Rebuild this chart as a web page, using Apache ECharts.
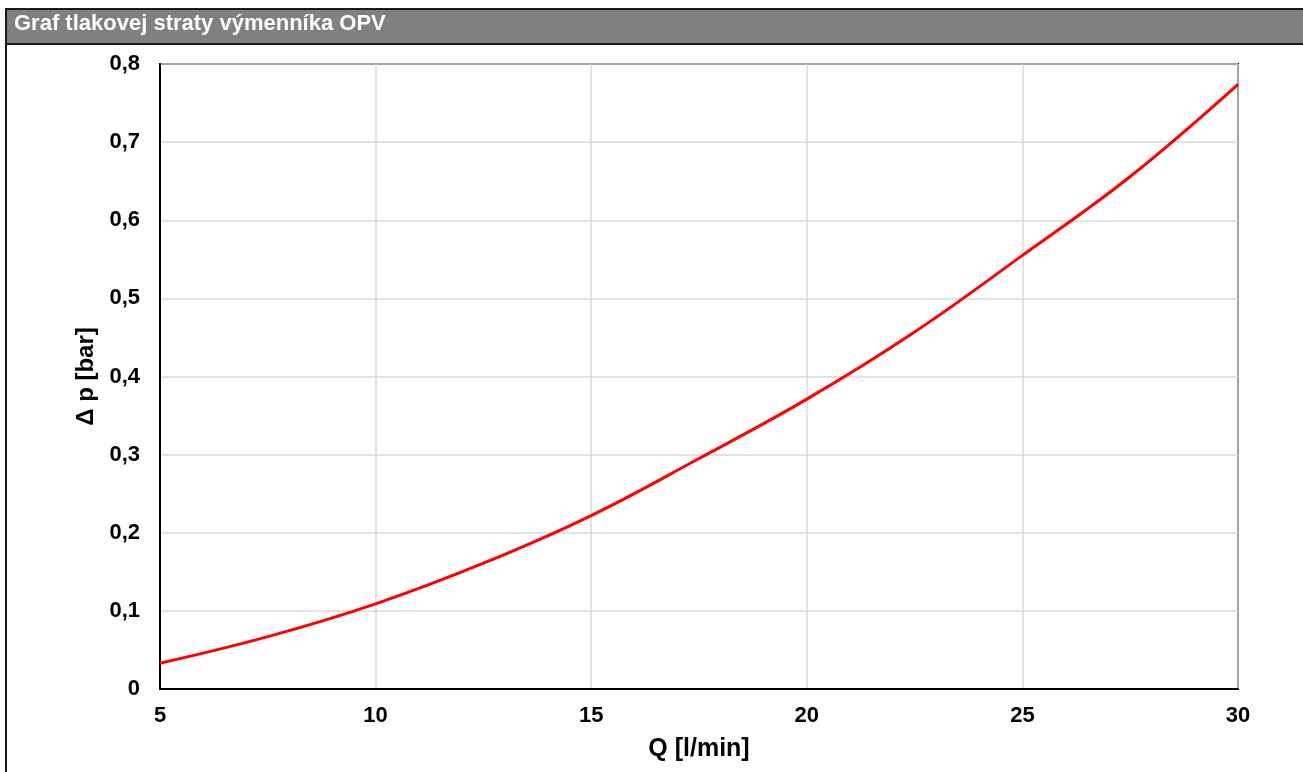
<!DOCTYPE html>
<html>
<head>
<meta charset="utf-8">
<script src="https://cdn.jsdelivr.net/npm/echarts@6/dist/echarts.min.js"></script>
<style>
html,body{margin:0;padding:0;background:#fff;}
#chart{width:1303px;height:772px;}
</style>
</head>
<body>
<div id="chart"></div>
<script>
const titleText = 'Graf tlakovej straty výmenníka OPV';
const flowQ = [5, 7.5, 10, 12.5, 15, 17.5, 20, 22.5, 25, 27.5, 30];
const pressureDrop = [0.033, 0.067, 0.109, 0.161, 0.222, 0.295, 0.371, 0.457, 0.555, 0.656, 0.774];
const xName = 'Q [l/min]';
const yName = 'Δ p [bar]';

const chart = echarts.init(document.getElementById('chart'));
const font = '"Liberation Sans", Arial, sans-serif';
chart.setOption({
  animation: false,
  backgroundColor: '#fff',
  graphic: [
    {type: 'rect', shape: {x: 5, y: 8, width: 1298, height: 37}, style: {fill: '#1a1a1a'}, z: 0},
    {type: 'rect', shape: {x: 7, y: 10, width: 1296, height: 33}, style: {fill: '#808080'}, z: 1},
    {type: 'rect', shape: {x: 5, y: 8, width: 2, height: 764}, style: {fill: '#1a1a1a'}, z: 1},
    {type: 'text', left: 14, top: 13, style: {text: titleText, fill: '#fff', font: 'bold 22px ' + font}, z: 2}
  ],
  grid: {left: 160, right: 65, top: 64, bottom: 83, show: true, borderColor: '#000', borderWidth: 2, backgroundColor: '#fff'},
  xAxis: {
    type: 'value', min: 5, max: 30, interval: 5,
    name: xName, nameLocation: 'middle', nameGap: 48,
    nameTextStyle: {fontFamily: font, fontWeight: 'bold', fontSize: 25, color: '#000'},
    axisLine: {show: true, lineStyle: {color: '#000', width: 2}},
    axisTick: {show: false},
    axisLabel: {fontFamily: font, fontWeight: 'bold', fontSize: 22, color: '#000', margin: 16},
    splitLine: {show: true, lineStyle: {color: '#d9d9d9', width: 1.5}}
  },
  yAxis: {
    type: 'value', min: 0, max: 0.8, interval: 0.1,
    name: yName, nameLocation: 'middle', nameGap: 59,
    nameTextStyle: {fontFamily: font, fontWeight: 'bold', fontSize: 24, color: '#000'},
    axisLine: {show: true, lineStyle: {color: '#000', width: 2}},
    axisTick: {show: false},
    axisLabel: {fontFamily: font, fontWeight: 'bold', fontSize: 22, color: '#000', margin: 20,
      formatter: v => (Math.round(v * 10) / 10).toString().replace('.', ',')},
    splitLine: {show: true, lineStyle: {color: '#d9d9d9', width: 1.5}}
  },
  series: [{
    type: 'line', data: flowQ.map((q, i) => [q, pressureDrop[i]]),
    smooth: 0.4, showSymbol: false, symbol: 'none',
    lineStyle: {color: '#ff0000', width: 3}
  }]
});
</script>
</body>
</html>
